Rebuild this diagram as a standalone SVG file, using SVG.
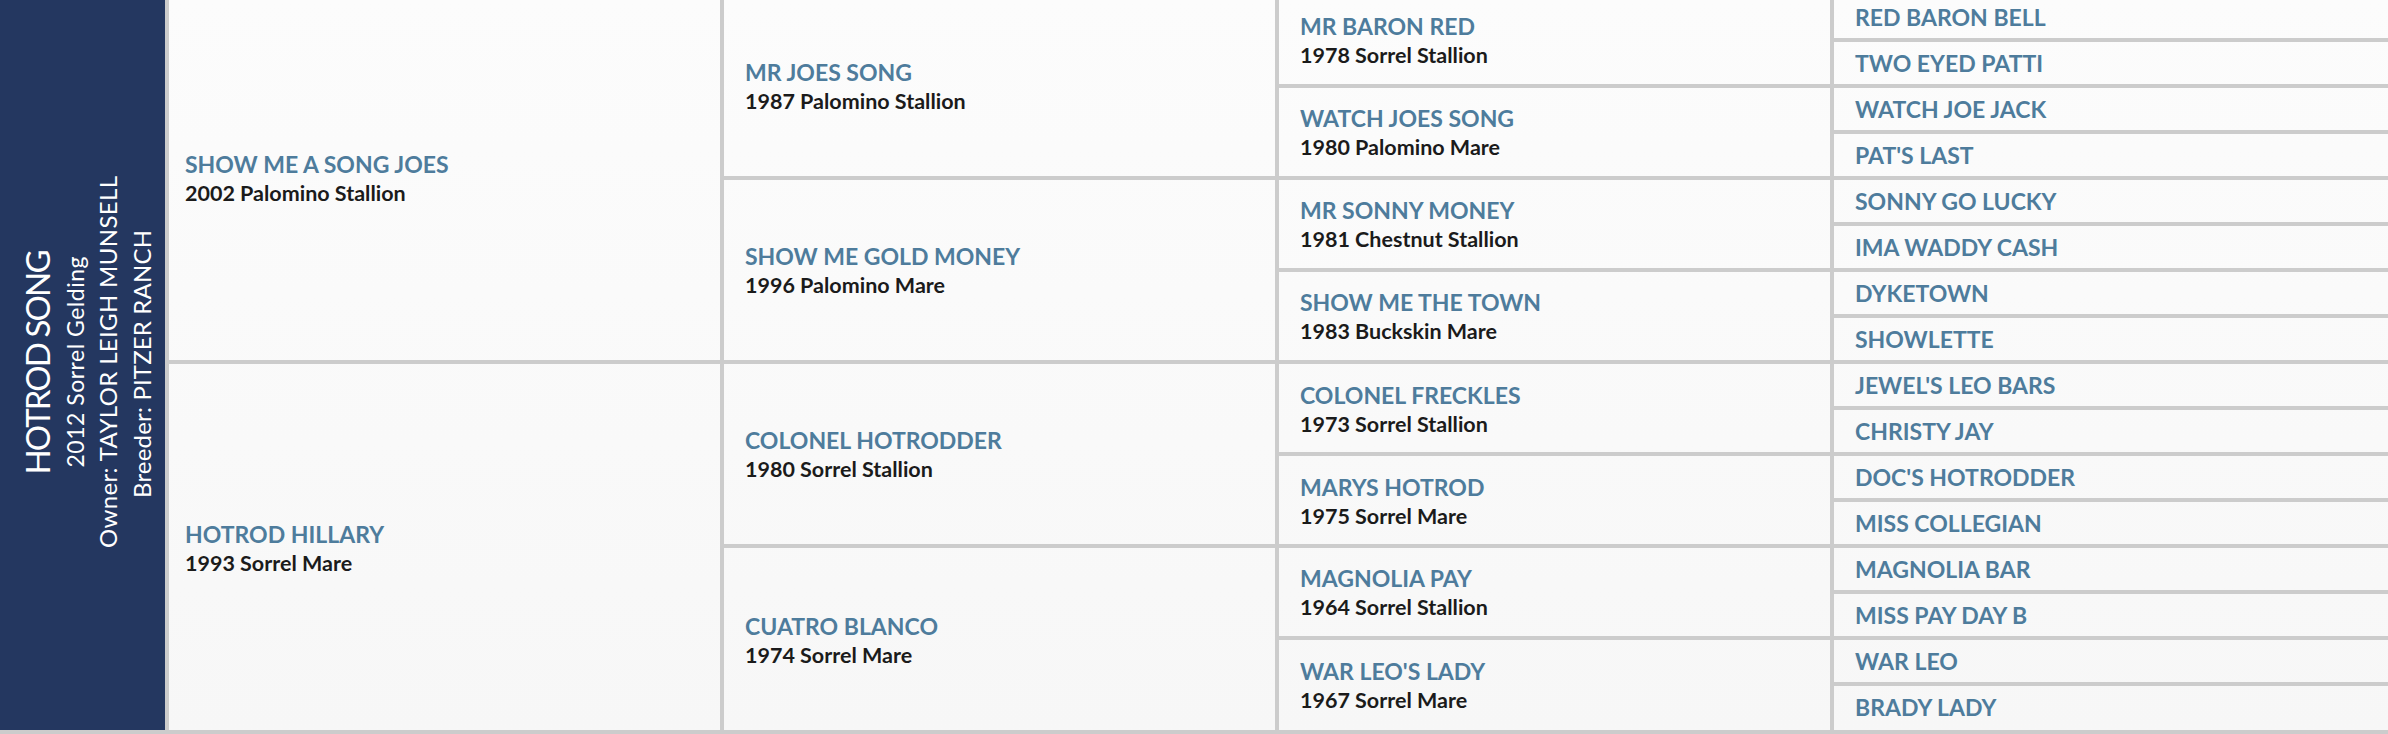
<svg xmlns="http://www.w3.org/2000/svg" width="2388" height="734" viewBox="0 0 2388 734">
<defs>
<linearGradient id="bg" x1="0" y1="0" x2="0" y2="1">
<stop offset="0" stop-color="#fcfcfc"/>
<stop offset="1" stop-color="#f7f7f7"/>
</linearGradient>
<style>
.name{font-family:Lato,"Liberation Sans",sans-serif;font-weight:700;font-size:23px;fill:#4e7c9c}
.date{font-family:Lato,"Liberation Sans",sans-serif;font-weight:700;font-size:21.5px;fill:#1b1b1b}
.pt{font-family:Lato,"Liberation Sans",sans-serif;font-weight:400;fill:#ffffff;text-anchor:middle}
.ln{fill:#cccccc}
</style>
</defs>
<rect x="0" y="0" width="2388" height="734" fill="url(#bg)"/>
<g id="subject">
<rect x="0" y="0" width="165" height="734" fill="#243760"/>
<text class="pt" font-size="33" textLength="225" transform="translate(50,362) rotate(-90)">HOTROD SONG</text>
<text class="pt" font-size="23" textLength="211" transform="translate(83.5,362) rotate(-90)">2012 Sorrel Gelding</text>
<text class="pt" font-size="24" textLength="372" transform="translate(117,362) rotate(-90)">Owner: TAYLOR LEIGH MUNSELL</text>
<text class="pt" font-size="24" textLength="268" transform="translate(150.5,364) rotate(-90)">Breeder: PITZER RANCH</text>
</g>
<g id="connectors">
<rect class="ln" x="165" y="0" width="4" height="734"/>
<rect class="ln" x="720" y="0" width="4" height="734"/>
<rect class="ln" x="1275" y="0" width="4" height="734"/>
<rect class="ln" x="1830" y="0" width="4" height="734"/>
<rect class="ln" x="0" y="730" width="2388" height="4"/>
<rect class="ln" x="169" y="360" width="551" height="4"/>
<rect class="ln" x="724" y="176" width="551" height="4"/>
<rect class="ln" x="724" y="360" width="551" height="4"/>
<rect class="ln" x="724" y="544" width="551" height="4"/>
<rect class="ln" x="1279" y="84" width="551" height="4"/>
<rect class="ln" x="1279" y="176" width="551" height="4"/>
<rect class="ln" x="1279" y="268" width="551" height="4"/>
<rect class="ln" x="1279" y="360" width="551" height="4"/>
<rect class="ln" x="1279" y="452" width="551" height="4"/>
<rect class="ln" x="1279" y="544" width="551" height="4"/>
<rect class="ln" x="1279" y="636" width="551" height="4"/>
<rect class="ln" x="1834" y="38" width="554" height="4"/>
<rect class="ln" x="1834" y="84" width="554" height="4"/>
<rect class="ln" x="1834" y="130" width="554" height="4"/>
<rect class="ln" x="1834" y="176" width="554" height="4"/>
<rect class="ln" x="1834" y="222" width="554" height="4"/>
<rect class="ln" x="1834" y="268" width="554" height="4"/>
<rect class="ln" x="1834" y="314" width="554" height="4"/>
<rect class="ln" x="1834" y="360" width="554" height="4"/>
<rect class="ln" x="1834" y="406" width="554" height="4"/>
<rect class="ln" x="1834" y="452" width="554" height="4"/>
<rect class="ln" x="1834" y="498" width="554" height="4"/>
<rect class="ln" x="1834" y="544" width="554" height="4"/>
<rect class="ln" x="1834" y="590" width="554" height="4"/>
<rect class="ln" x="1834" y="636" width="554" height="4"/>
<rect class="ln" x="1834" y="682" width="554" height="4"/>
</g>
<g id="sire"><text class="name" x="185" y="173">SHOW ME A SONG JOES</text><text class="date" x="185" y="200.5">2002 Palomino Stallion</text></g>
<g id="dam"><text class="name" x="185" y="543">HOTROD HILLARY</text><text class="date" x="185" y="570.5">1993 Sorrel Mare</text></g>
<g id="ss"><text class="name" x="745" y="81">MR JOES SONG</text><text class="date" x="745" y="109">1987 Palomino Stallion</text></g>
<g id="sd"><text class="name" x="745" y="265">SHOW ME GOLD MONEY</text><text class="date" x="745" y="293">1996 Palomino Mare</text></g>
<g id="ds"><text class="name" x="745" y="449">COLONEL HOTRODDER</text><text class="date" x="745" y="477">1980 Sorrel Stallion</text></g>
<g id="dd"><text class="name" x="745" y="635">CUATRO BLANCO</text><text class="date" x="745" y="663">1974 Sorrel Mare</text></g>
<g id="sss"><text class="name" x="1300" y="35">MR BARON RED</text><text class="date" x="1300" y="63">1978 Sorrel Stallion</text></g>
<g id="ssd"><text class="name" x="1300" y="127">WATCH JOES SONG</text><text class="date" x="1300" y="155">1980 Palomino Mare</text></g>
<g id="sds"><text class="name" x="1300" y="219">MR SONNY MONEY</text><text class="date" x="1300" y="247">1981 Chestnut Stallion</text></g>
<g id="sdd"><text class="name" x="1300" y="311">SHOW ME THE TOWN</text><text class="date" x="1300" y="339">1983 Buckskin Mare</text></g>
<g id="dss"><text class="name" x="1300" y="403.5">COLONEL FRECKLES</text><text class="date" x="1300" y="431.5">1973 Sorrel Stallion</text></g>
<g id="dsd"><text class="name" x="1300" y="496">MARYS HOTROD</text><text class="date" x="1300" y="524">1975 Sorrel Mare</text></g>
<g id="dds"><text class="name" x="1300" y="587">MAGNOLIA PAY</text><text class="date" x="1300" y="615">1964 Sorrel Stallion</text></g>
<g id="ddd"><text class="name" x="1300" y="680">WAR LEO'S LADY</text><text class="date" x="1300" y="708">1967 Sorrel Mare</text></g>
<g id="g4-0"><text class="name" x="1855" y="26">RED BARON BELL</text></g>
<g id="g4-1"><text class="name" x="1855" y="72">TWO EYED PATTI</text></g>
<g id="g4-2"><text class="name" x="1855" y="118">WATCH JOE JACK</text></g>
<g id="g4-3"><text class="name" x="1855" y="164">PAT'S LAST</text></g>
<g id="g4-4"><text class="name" x="1855" y="210">SONNY GO LUCKY</text></g>
<g id="g4-5"><text class="name" x="1855" y="256">IMA WADDY CASH</text></g>
<g id="g4-6"><text class="name" x="1855" y="302">DYKETOWN</text></g>
<g id="g4-7"><text class="name" x="1855" y="348">SHOWLETTE</text></g>
<g id="g4-8"><text class="name" x="1855" y="394">JEWEL'S LEO BARS</text></g>
<g id="g4-9"><text class="name" x="1855" y="440">CHRISTY JAY</text></g>
<g id="g4-10"><text class="name" x="1855" y="486">DOC'S HOTRODDER</text></g>
<g id="g4-11"><text class="name" x="1855" y="532">MISS COLLEGIAN</text></g>
<g id="g4-12"><text class="name" x="1855" y="578">MAGNOLIA BAR</text></g>
<g id="g4-13"><text class="name" x="1855" y="624">MISS PAY DAY B</text></g>
<g id="g4-14"><text class="name" x="1855" y="670">WAR LEO</text></g>
<g id="g4-15"><text class="name" x="1855" y="716">BRADY LADY</text></g>
</svg>
